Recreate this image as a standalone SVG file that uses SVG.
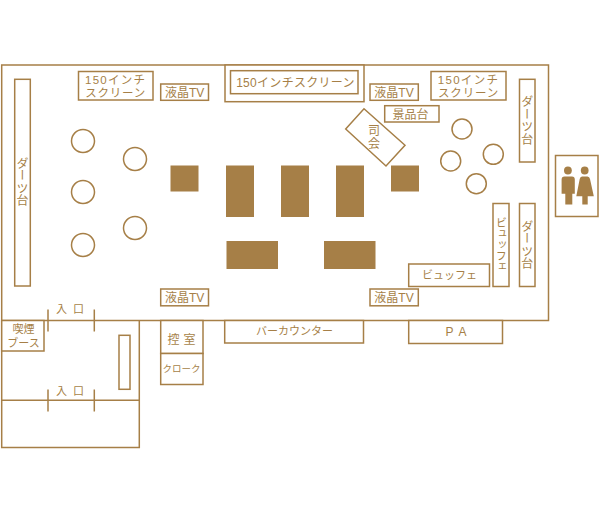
<svg xmlns="http://www.w3.org/2000/svg" width="600" height="512" viewBox="0 0 600 512">
<style>
.l{fill:none;stroke:#a67f47;stroke-width:1.5}
.b{fill:#fff;stroke:#a67f47;stroke-width:1.5}
.f{fill:#a67f47}
text{font-family:"Liberation Sans","Noto Sans CJK JP",sans-serif;font-size:12px;fill:#a67f47;text-anchor:middle}
.v{writing-mode:vertical-rl;letter-spacing:.5px}
.s{font-size:11px}
.t{font-size:11.500px}
</style>
<rect width="600" height="512" fill="#fff"/>
<g id="connectors">
<rect class="l" x="1.700" y="65" width="546.800" height="255.500"/>
<path class="l" d="M1.700 320.500V447.500H139.300V320.500M1.700 400.300H139.300M48 309.500V331.500M94.300 309.500V331.500M48 389.500V411.500M94.300 389.500V411.500"/>
</g>
<g id="stage"><rect class="b" x="225" y="65" width="139" height="36.700"/></g>
<g id="screen-center"><rect class="b" x="230.500" y="70.700" width="127.500" height="23"/><text x="295.500" y="87" style="letter-spacing:.3px">150インチスクリーン</text></g>
<g id="screen-left"><rect class="b" x="78.500" y="71.500" width="74.500" height="28.500"/><text class="t" x="115.700" y="83.500" style="letter-spacing:1.300px">150インチ</text><text class="t" x="115.700" y="96.500" style="letter-spacing:.8px">スクリーン</text></g>
<g id="screen-right"><rect class="b" x="431" y="71.500" width="75" height="28.500"/><text class="t" x="468.500" y="83.500" style="letter-spacing:1.300px">150インチ</text><text class="t" x="468.500" y="96.500" style="letter-spacing:.8px">スクリーン</text></g>
<g id="tv1"><rect class="b" x="160.700" y="84" width="47.800" height="16.300"/><text x="184.600" y="97">液晶TV</text></g>
<g id="tv2"><rect class="b" x="370" y="84" width="48.300" height="16.300"/><text x="394" y="97">液晶TV</text></g>
<g id="tv3"><rect class="b" x="160.700" y="289" width="47.800" height="16.800"/><text x="184.600" y="302">液晶TV</text></g>
<g id="tv4"><rect class="b" x="370" y="289" width="48.300" height="16.800"/><text x="394" y="302">液晶TV</text></g>
<g id="prize"><rect class="b" x="384.700" y="105.700" width="54.300" height="16.300"/><text x="410.500" y="118.500">景品台</text></g>
<g id="mc"><path class="b" d="M364 108.700L405 145.300L386 166L345.700 129Z"/><text x="374" y="134.500">司</text><text x="374" y="148">会</text></g>
<g id="darts-left"><rect class="b" x="14.700" y="79.300" width="15.600" height="206.700"/><text class="v" x="21" y="182">ダーツ台</text></g>
<g id="darts-right-top"><rect class="b" x="519.500" y="79.300" width="15.500" height="82.700"/><text class="v" x="525.800" y="120.500">ダーツ台</text></g>
<g id="darts-right-bottom"><rect class="b" x="519.500" y="203.500" width="15.500" height="83"/><text class="v" x="525.800" y="245">ダーツ台</text></g>
<g id="buffet-v"><rect class="b" x="493" y="203.500" width="16" height="83"/><text class="v s" x="500.200" y="245" style="letter-spacing:0">ビュッフェ</text></g>
<g id="buffet-h"><rect class="b" x="408.700" y="264" width="80.800" height="22.500"/><text class="s" x="449.500" y="279">ビュッフェ</text></g>
<g id="pa"><rect class="b" x="408.700" y="320.500" width="93.800" height="23"/><text x="459" y="336" style="letter-spacing:6px">PA</text></g>
<g id="bar"><rect class="b" x="224.700" y="320.500" width="138.800" height="22.500"/><text class="s" x="294.500" y="335">バーカウンター</text></g>
<g id="room"><rect class="b" x="160.700" y="320.500" width="42.300" height="33"/><text x="183.500" y="343.500" style="letter-spacing:4px">控室</text></g>
<g id="cloak"><rect class="b" x="160.700" y="353.500" width="42.300" height="31"/><text x="181.500" y="372" style="font-size:9.500px">クローク</text></g>
<g id="smoking"><rect class="b" x="1.700" y="320.500" width="42.300" height="30.500"/><text class="s" x="23.500" y="333">喫煙</text><text class="s" x="23.500" y="347">ブース</text></g>
<g id="pillar"><rect class="b" x="119" y="335.300" width="11" height="54"/></g>
<g id="entrance1"><text class="s" x="73" y="313" style="letter-spacing:6px">入口</text></g>
<g id="entrance2"><text class="s" x="73" y="395" style="letter-spacing:6px">入口</text></g>
<g id="seats" class="l">
<circle cx="83" cy="141" r="11.500"/><circle cx="135" cy="159" r="11.500"/><circle cx="83" cy="192" r="11.500"/><circle cx="83" cy="245" r="11.500"/><circle cx="135" cy="228" r="11.500"/>
<circle cx="462" cy="129" r="10"/><circle cx="493.300" cy="154.300" r="10"/><circle cx="450.700" cy="161" r="10"/><circle cx="476.300" cy="183.700" r="10"/>
</g>
<g id="tables" class="f">
<rect x="170.500" y="165.500" width="28" height="26"/><rect x="226" y="165.500" width="28" height="51.500"/><rect x="281" y="165.500" width="28" height="51.500"/><rect x="336" y="165.500" width="28" height="51.500"/><rect x="391" y="165.500" width="28" height="26"/><rect x="226.500" y="241" width="51.500" height="28"/><rect x="324" y="241" width="51.500" height="28"/>
</g>
<g id="restroom"><rect class="b" x="555.500" y="155.500" width="42.500" height="61"/>
<g class="f"><circle cx="567.900" cy="170.500" r="3.900"/><path d="M564.500 176.500H572Q574.800 176.500 574.800 179.500V193.700H572.300V204.500H565.300V193.700H561.600V179.500Q561.600 176.500 564.500 176.500Z"/><circle cx="584.700" cy="170.500" r="3.900"/><path d="M582 176.500H587.500Q589.500 176.500 590 179L593.800 196.300H587.700V204.500H582.300V196.300H576.300L579.700 179Q580.200 176.500 582 176.500Z"/></g></g>
</svg>
